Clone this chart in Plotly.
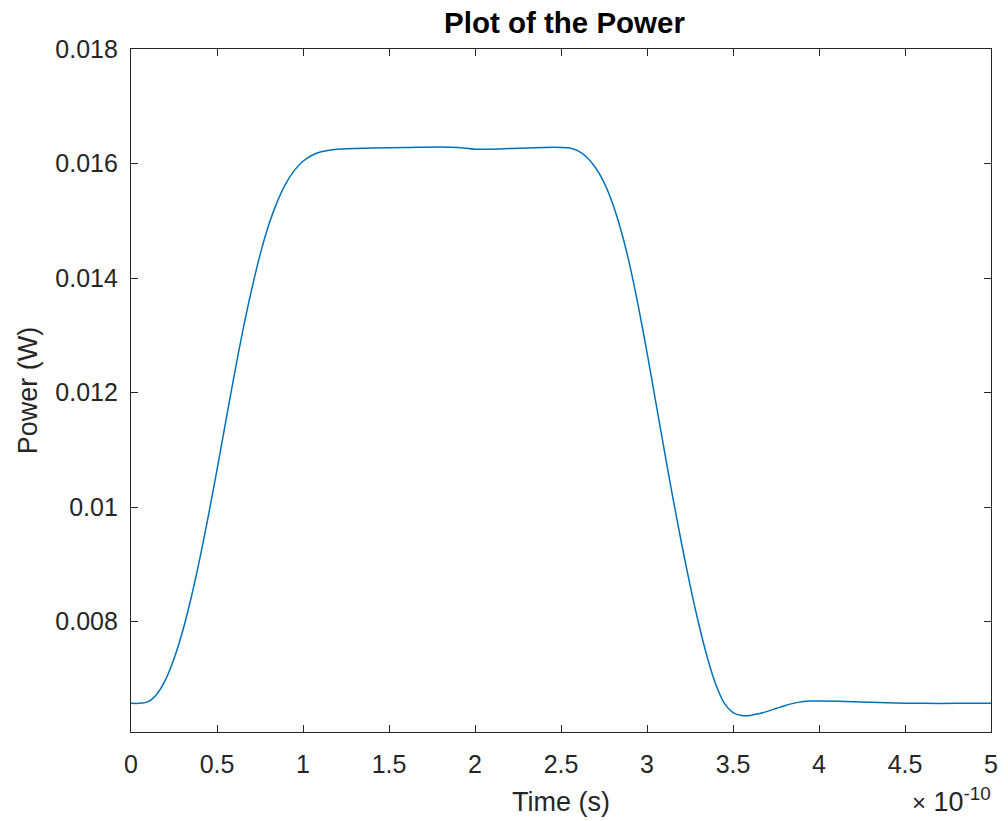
import plotly.graph_objects as go

# time in units of 1e-10 s
t_scaled = [0.00, 0.05, 0.10, 0.15, 0.20, 0.25, 0.30, 0.35, 0.40, 0.45, 0.50, 0.55,
            0.60, 0.65, 0.70, 0.75, 0.80, 0.85, 0.90, 0.95, 1.00, 1.05, 1.10, 1.20,
            1.40, 1.60, 1.80, 1.90, 2.00, 2.10, 2.20, 2.40, 2.50, 2.55, 2.60, 2.65,
            2.70, 2.75, 2.80, 2.85, 2.90, 2.95, 3.00, 3.05, 3.10, 3.15, 3.20, 3.25,
            3.30, 3.35, 3.40, 3.45, 3.50, 3.55, 3.60, 3.65, 3.70, 3.75, 3.80, 3.85,
            3.90, 3.95, 4.00, 4.20, 4.40, 4.60, 4.80, 5.00]
power = [0.00657, 0.00657, 0.00660, 0.00673, 0.00698, 0.00735, 0.00783, 0.00842,
         0.00910, 0.00985, 0.01065, 0.01148, 0.01230, 0.01308, 0.01378, 0.01440,
         0.01492, 0.01533, 0.01565, 0.01588, 0.01604, 0.01614, 0.01620, 0.01625,
         0.01627, 0.01628, 0.01629, 0.01628, 0.01625, 0.01625, 0.01626, 0.01628,
         0.01628, 0.01627, 0.01622, 0.01611, 0.01593, 0.01567, 0.01530, 0.01482,
         0.01422, 0.01350, 0.01270, 0.01185, 0.01100, 0.01017, 0.00938, 0.00864,
         0.00797, 0.00738, 0.00690, 0.00657, 0.00641, 0.00636, 0.00636, 0.00639,
         0.00643, 0.00648, 0.00653, 0.00657, 0.00660, 0.00661, 0.00661, 0.00660,
         0.00658, 0.00657, 0.00657, 0.00657]

x_tick_vals = [0, 0.5, 1, 1.5, 2, 2.5, 3, 3.5, 4, 4.5, 5]
x_tick_text = ["0", "0.5", "1", "1.5", "2", "2.5", "3", "3.5", "4", "4.5", "5"]
y_tick_vals = [0.008, 0.010, 0.012, 0.014, 0.016, 0.018]
y_tick_text = ["0.008", "0.01", "0.012", "0.014", "0.016", "0.018"]

time_s = [v * 1e-10 for v in t_scaled]

AX = "#262626"
FONT = "Liberation Sans, Arial, Helvetica, sans-serif"

fig = go.Figure()
fig.add_trace(go.Scatter(x=time_s, y=power, mode="lines",
                         line=dict(color="#0072BD", width=1.5, shape="spline", smoothing=0.8),
                         hoverinfo="skip", showlegend=False))

fig.update_layout(
    width=1008, height=821,
    margin=dict(l=131, r=10, t=49, b=88),
    paper_bgcolor="white", plot_bgcolor="white",
    font=dict(family=FONT, color=AX, size=25),
    title=dict(text="<b>Plot of the Power</b>", x=(131 + 998) / 2 / 1008, xanchor="center",
               y=1 - 23 / 821, yanchor="middle", yref="container",
               font=dict(size=29.5, color="#000000", family=FONT)),
    xaxis=dict(range=[0, 5e-10], tickvals=[v * 1e-10 for v in x_tick_vals], ticktext=x_tick_text,
               showgrid=False, zeroline=False, showline=True, linecolor=AX, linewidth=1.3,
               mirror="ticks", ticks="inside", ticklen=7, tickcolor=AX, tickwidth=1.3,
               ticklabelstandoff=10,
               tickfont=dict(size=25, color=AX),
               title=dict(text="Time (s)", font=dict(size=27, color=AX), standoff=14)),
    yaxis=dict(range=[0.00607, 0.018], tickvals=y_tick_vals, ticktext=y_tick_text,
               showgrid=False, zeroline=False, showline=True, linecolor=AX, linewidth=1.3,
               mirror="ticks", ticks="inside", ticklen=7, tickcolor=AX, tickwidth=1.3,
               ticklabelstandoff=7,
               tickfont=dict(size=25, color=AX),
               title=dict(text="Power (W)", font=dict(size=27, color=AX), standoff=9)),
)

fig.add_annotation(text="<span style='font-size:24px'>×</span> 10<sup>-10</sup>",
                   xref="paper", yref="paper",
                   x=1.0, y=-68 / 684, xanchor="right", yanchor="middle", xshift=2,
                   showarrow=False, font=dict(size=27, color=AX, family=FONT))

fig.write_html("out.html")
